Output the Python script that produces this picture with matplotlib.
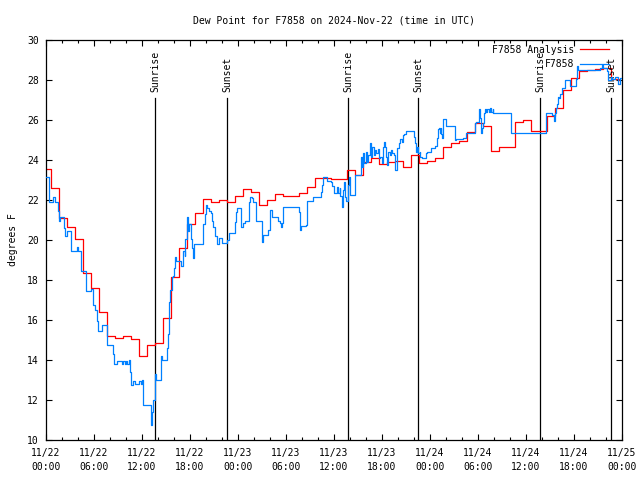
import datetime as dt
import matplotlib
matplotlib.use("Agg")
import matplotlib.pyplot as plt
import matplotlib.dates as mdates
import numpy as np

# начало оси времени (UTC)
start = dt.datetime(2024, 11, 22)
end = dt.datetime(2024, 11, 25)

# анализ: одно значение в час (шаг меняется примерно в hh:38)
analysis_step_hour = 0.63
analysis_dew = [23.55, 22.6, 21.1, 20.64, 20.05, 18.35, 17.6, 16.4, 15.2, 15.1,
                15.2, 15.05, 14.2, 14.77, 14.85, 16.1, 18.14, 19.6, 20.8, 21.35,
                22.05, 21.9, 22.0, 21.88, 22.2, 22.53, 22.38, 21.75, 21.98, 22.32,
                22.2, 22.2, 22.37, 22.67, 23.08, 23.08, 23.03, 23.03, 23.5, 23.25,
                23.9, 24.08, 23.8, 23.92, 23.95, 23.67, 24.25, 23.83, 23.95, 24.08,
                24.67, 24.83, 24.95, 25.42, 25.83, 25.72, 24.45, 24.67, 24.67, 25.88,
                26.0, 25.45, 25.45, 26.2, 26.6, 27.5, 28.1, 28.45, 28.5, 28.55,
                28.6, 28.05, 28.0]

# наблюдения станции F7858: часы от начала суток 11/22 и точка росы
obs_hours = [0.0, 0.42, 0.92, 1.12, 1.54, 1.67, 1.75, 2.25, 2.42, 2.67,
             3.17, 3.83, 3.96, 4.33, 4.42, 5.0, 5.58, 5.83, 6.08, 6.42,
             6.54, 6.96, 7.58, 7.67, 8.42, 8.54, 8.83, 9.46, 9.58, 9.88,
             10.0, 10.17, 10.33, 10.5, 10.58, 10.92, 11.17, 11.67, 11.83, 12.0,
             12.08, 12.17, 13.08, 13.2, 13.33, 13.58, 13.67, 13.75, 14.33, 14.5,
             15.08, 15.25, 15.38, 15.54, 15.71, 15.88, 16.0, 16.17, 16.29, 16.92,
             17.08, 17.33, 17.42, 17.58, 17.67, 17.75, 17.92, 18.08, 18.25, 18.33,
             18.5, 19.67, 19.83, 20.0, 20.17, 20.33, 20.58, 20.75, 20.92, 21.17,
             21.33, 21.58, 21.96, 22.58, 22.83, 23.58, 23.71, 23.92, 24.33, 24.67,
             24.83, 25.33, 25.5, 25.75, 25.92, 26.25, 27.0, 27.08, 27.79, 28.0,
             28.25, 29.04, 29.25, 29.42, 29.54, 29.67, 31.58, 31.75, 31.83, 32.5,
             32.58, 33.42, 34.33, 34.5, 34.67, 35.08, 35.62, 35.79, 35.96, 36.04,
             36.38, 36.5, 36.71, 36.79, 36.96, 37.12, 37.29, 37.38, 37.46, 37.79,
             37.88, 38.0, 38.62, 39.38, 39.54, 39.62, 39.79, 39.96, 40.12, 40.29,
             40.46, 40.62, 40.79, 40.96, 41.12, 41.29, 41.46, 41.62, 41.79, 41.96,
             42.12, 42.21, 42.38, 42.54, 42.62, 42.79, 42.96, 43.12, 43.29, 43.46,
             43.62, 43.88, 44.12, 44.29, 44.46, 44.62, 44.79, 44.96, 45.96, 46.12,
             46.29, 46.38, 46.54, 46.71, 46.79, 46.96, 47.5, 47.67, 48.08, 48.58,
             48.92, 49.04, 49.17, 49.25, 49.33, 49.42, 49.5, 49.58, 49.67, 50.0,
             51.08, 51.25, 52.17, 52.5, 53.58, 53.75, 54.08, 54.17, 54.25, 54.33,
             54.42, 54.5, 54.67, 54.75, 54.92, 55.0, 55.17, 55.33, 55.5, 55.67,
             55.83, 55.92, 58.17, 62.54, 63.21, 63.46, 63.54, 63.62, 63.71, 63.88,
             63.96, 64.12, 64.29, 64.54, 64.88, 65.54, 66.21, 66.38, 66.46, 69.29,
             69.46, 69.62, 70.08, 70.21, 70.62, 70.79, 71.12, 71.54, 71.75, 72.0]
obs_dew = [23.17, 21.92, 22.13, 21.92, 21.47, 20.97, 21.13, 20.6, 20.22, 20.47,
           19.47, 19.67, 19.47, 19.0, 18.47, 17.47, 17.55, 16.77, 16.5, 15.97,
           15.47, 15.75, 15.3, 14.77, 14.3, 13.8, 13.97, 13.8, 13.97, 13.8,
           13.97, 13.8, 14.0, 13.4, 12.77, 12.97, 12.8, 12.97, 12.8, 13.0,
           12.3, 11.77, 10.77, 11.4, 12.0, 13.0, 13.3, 13.0, 14.22, 14.02,
           14.6, 15.3, 16.9, 17.5, 18.13, 18.2, 18.6, 19.17, 18.97, 18.72,
           19.47, 19.2, 20.05, 20.63, 21.17, 20.47, 20.8, 20.05, 19.6, 19.1,
           19.8, 20.8, 21.3, 21.75, 21.6, 21.43, 21.33, 20.97, 20.64, 20.22,
           19.8, 20.1, 19.83, 20.0, 20.37, 20.92, 21.42, 21.62, 20.67, 20.85,
           20.95, 21.92, 22.17, 22.08, 21.92, 20.95, 19.92, 20.25, 20.5, 21.5,
           21.17, 20.95, 20.83, 20.67, 20.83, 21.63, 21.42, 20.5, 20.7, 20.75,
           21.95, 22.15, 22.42, 22.75, 23.17, 22.95, 22.9, 22.7, 22.5, 22.37,
           22.63, 22.37, 22.6, 22.2, 21.67, 22.5, 22.92, 22.17, 21.97, 22.75,
           23.17, 22.25, 23.25, 24.17, 23.67, 24.33, 23.83, 24.42, 23.92, 24.25,
           24.83, 24.17, 24.67, 24.25, 24.5, 24.37, 24.53, 24.08, 24.17, 23.83,
           24.67, 24.92, 24.67, 24.17, 23.75, 24.42, 24.25, 24.5, 24.33, 24.25,
           23.5, 24.58, 24.83, 25.03, 24.92, 25.25, 25.3, 25.47, 25.17, 24.83,
           24.42, 24.67, 24.33, 24.42, 24.17, 24.1, 24.33, 24.38, 24.62, 24.72,
           25.08, 25.53, 25.58, 25.33, 25.58, 25.28, 25.08, 25.5, 26.03, 25.72,
           25.0, 25.05, 25.12, 25.33, 25.83, 25.92, 26.4, 26.55, 26.1, 25.58,
           25.35, 25.58, 25.83, 26.33, 26.55, 26.42, 26.55, 26.42, 26.58, 26.42,
           26.55, 26.33, 25.33, 26.33, 26.25, 26.08, 25.95, 26.33, 26.62, 26.78,
           27.17, 27.08, 27.28, 27.58, 28.0, 27.72, 28.05, 28.7, 28.5, 28.58,
           28.75, 28.6, 28.45, 28.0, 28.17, 28.05, 28.17, 27.8, 28.1, 28.1]

# восход/заход солнца (часы от начала 11/22, UTC)
sun_hours = [13.63, 22.63, 37.75, 46.5, 61.75, 70.63]
sun_labels = ["Sunrise", "Sunset", "Sunrise", "Sunset", "Sunrise", "Sunset"]


def to_time(hours):
    return [start + dt.timedelta(hours=float(h)) for h in hours]


plt.rcParams["font.family"] = "DejaVu Sans Mono"
plt.rcParams["font.size"] = 7

fig = plt.figure(figsize=(6.4, 4.8), dpi=100)
ax = fig.add_axes([46 / 640, 40 / 480, 576 / 640, 400 / 480])

# линии восхода/захода
for h, lab in zip(sun_hours, sun_labels):
    t = start + dt.timedelta(hours=h)
    ax.plot([t, t], [0, 0.855], color="black", lw=0.9,
            transform=ax.get_xaxis_transform(), zorder=1)
    ax.text(t, 0.87, lab, rotation=90, ha="center", va="bottom",
            transform=ax.get_xaxis_transform(), fontsize=7)

an_hours = np.arange(len(analysis_dew)) - 1 + analysis_step_hour
ax.plot(to_time(an_hours), analysis_dew, drawstyle="steps-post",
        color="#ff0000", lw=0.9, label="F7858 Analysis", zorder=2)
ax.plot(to_time(obs_hours), obs_dew, drawstyle="steps-post",
        color="#0080ff", lw=0.9, label="F7858", zorder=3)

ax.set_xlim(start, end)
ax.set_ylim(10, 30)
ax.set_yticks(np.arange(10, 31, 2))
ax.xaxis.set_major_locator(mdates.HourLocator(byhour=range(0, 24, 6)))
ax.xaxis.set_minor_locator(mdates.HourLocator(byhour=range(0, 24, 2)))
ax.xaxis.set_major_formatter(mdates.DateFormatter("%m/%d\n%H:%M"))
ax.tick_params(which="both", direction="in", top=True, right=True, width=0.8,
               labelsize=7, color="black")
ax.tick_params(which="major", length=4.5)
ax.tick_params(which="minor", length=2.5)
ax.tick_params(axis="y", pad=5)
ax.tick_params(axis="x", pad=6)
for lbl in ax.get_xticklabels():
    lbl.set_linespacing(1.45)
for sp in ax.spines.values():
    sp.set_linewidth(0.9)

ax.set_ylabel("degrees F", fontsize=7, labelpad=7)
ax.set_title("Dew Point for F7858 on 2024-Nov-22 (time in UTC)", fontsize=7, pad=12)

ax.legend(loc="upper right", bbox_to_anchor=(0.978, 0.988), frameon=False,
          markerfirst=False, borderpad=0, borderaxespad=0, handlelength=3.0,
          handletextpad=0.6, labelspacing=0.45, fontsize=7)

fig.savefig("out.png", dpi=100)
